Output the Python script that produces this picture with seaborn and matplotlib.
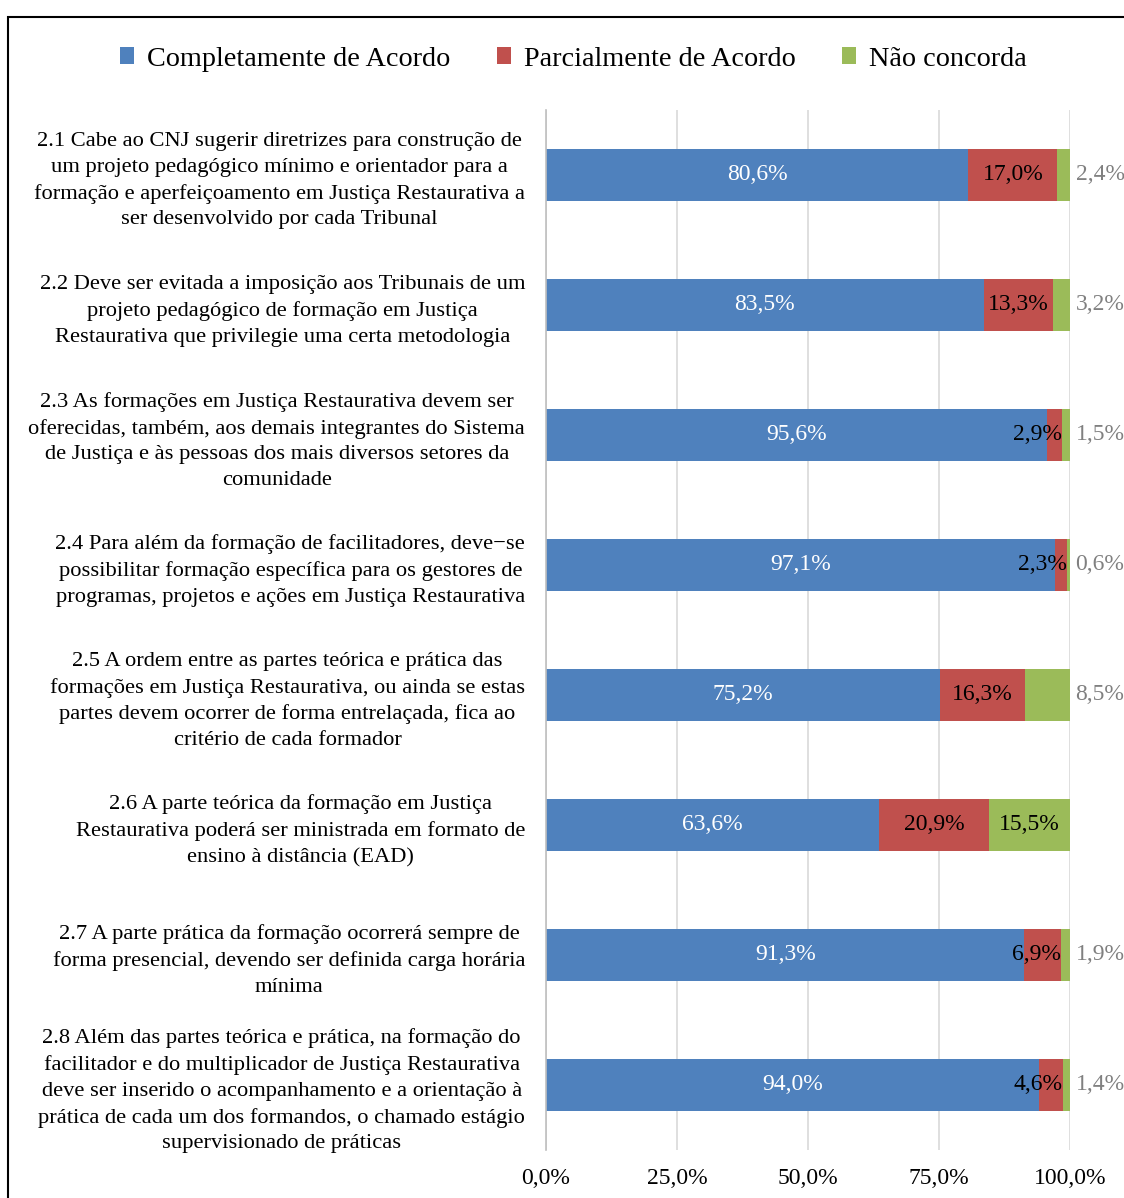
import pandas as pd
import matplotlib.pyplot as plt
import seaborn as sns
from matplotlib.patches import Patch, Rectangle

# dados
perguntas = [
    "2.1 Cabe ao CNJ sugerir diretrizes para construção de\num projeto pedagógico mínimo e orientador para a\nformação e aperfeiçoamento em Justiça Restaurativa a\nser desenvolvido por cada Tribunal",
    "2.2 Deve ser evitada a imposição aos Tribunais de um\nprojeto pedagógico de formação em Justiça\nRestaurativa que privilegie uma certa metodologia",
    "2.3 As formações em Justiça Restaurativa devem ser\noferecidas, também, aos demais integrantes do Sistema\nde Justiça e às pessoas dos mais diversos setores da\ncomunidade",
    "2.4 Para além da formação de facilitadores, deve\u2212se\npossibilitar formação específica para os gestores de\nprogramas, projetos e ações em Justiça Restaurativa",
    "2.5 A ordem entre as partes teórica e prática das\nformações em Justiça Restaurativa, ou ainda se estas\npartes devem ocorrer de forma entrelaçada, fica ao\ncritério de cada formador",
    "2.6 A parte teórica da formação em Justiça\nRestaurativa poderá ser ministrada em formato de\nensino à distância (EAD)",
    "2.7 A parte prática da formação ocorrerá sempre de\nforma presencial, devendo ser definida carga horária\nmínima",
    "2.8 Além das partes teórica e prática, na formação do\nfacilitador e do multiplicador de Justiça Restaurativa\ndeve ser inserido o acompanhamento e a orientação à\nprática de cada um dos formandos, o chamado estágio\nsupervisionado de práticas",
]
completamente = [80.6, 83.5, 95.6, 97.1, 75.2, 63.6, 91.3, 94.0]
parcialmente = [17.0, 13.3, 2.9, 2.3, 16.3, 20.9, 6.9, 4.6]
nao_concorda = [2.4, 3.2, 1.5, 0.6, 8.5, 15.5, 1.9, 1.4]
series = ['Completamente de Acordo', 'Parcialmente de Acordo', 'Não concorda']
cores = ['#4F81BD', '#C0504D', '#9BBB59']
xticks = [0, 25, 50, 75, 100]

df = pd.DataFrame({'pergunta': perguntas, 'comp': completamente,
                   'parc': parcialmente, 'nao': nao_concorda})
df['fim_comp'] = df['comp']
df['fim_parc'] = df['comp'] + df['parc']
df['fim_nao'] = df['fim_parc'] + df['nao']

def fmt(v):
    return f"{v:.1f}%".replace('.', ',')

sns.set_theme(style='white')
plt.rcParams['font.family'] = ['Liberation Serif', 'DejaVu Serif']
plt.rcParams['text.color'] = 'black'
plt.rcParams['xtick.color'] = 'black'
plt.rcParams['ytick.color'] = 'black'

fig = plt.figure(figsize=(11.24, 11.98), dpi=100)
ax = fig.add_axes([546 / 1124, 1 - 1150 / 1198, 524 / 1124, 1040 / 1198])

# barras empilhadas: totais acumulados desenhados por cima uns dos outros
for col, cor in zip(['fim_nao', 'fim_parc', 'fim_comp'], cores[::-1]):
    sns.barplot(data=df, x=col, y='pergunta', color=cor, orient='h', width=0.4,
                saturation=1, linewidth=0, ax=ax)

# rótulos de dados
fs = 17
for i, r in df.iterrows():
    ax.text(r['comp'] / 2, i, fmt(r['comp']), color='white', fontsize=fs,
            ha='center', va='center')
    if r['parc'] >= 8:
        ax.text(r['comp'] + r['parc'] / 2, i, fmt(r['parc']), color='black',
                fontsize=fs, ha='center', va='center')
    else:
        ax.text(r['fim_parc'], i, fmt(r['parc']), color='black', fontsize=fs,
                ha='right', va='center')
    if r['nao'] >= 10:
        ax.text(r['fim_parc'] + r['nao'] / 2, i, fmt(r['nao']), color='black',
                fontsize=fs, ha='center', va='center')
    else:
        ax.annotate(fmt(r['nao']), (r['fim_nao'], i), xytext=(4, 0),
                    textcoords='offset points', color='#808080', fontsize=fs,
                    ha='left', va='center', annotation_clip=False)

ax.set_xlim(0, 100)
ax.set_xticks(xticks)
ax.set_xticklabels([fmt(v) for v in xticks])
ax.set_xlabel('')
ax.set_ylabel('')
ax.set_axisbelow(True)
ax.grid(axis='x', color='#D9D9D9', linewidth=1.2)
ax.grid(axis='y', visible=False)
for s in ['top', 'right', 'bottom']:
    ax.spines[s].set_visible(False)
ax.spines['left'].set_color('#BFBFBF')
ax.spines['left'].set_linewidth(1.2)
ax.tick_params(axis='y', length=0, pad=15, labelsize=16.2, labelcolor='black')
ax.tick_params(axis='x', length=0, pad=13, labelsize=17, labelcolor='black')
for lbl in ax.get_yticklabels():
    lbl.set_multialignment('center')
    lbl.set_linespacing(1.47)

handles = [Patch(facecolor=c, edgecolor='none', label=s) for s, c in zip(series, cores)]
fig.legend(handles=handles, loc='center', bbox_to_anchor=(0.51, 1 - 59 / 1198),
           ncol=3, frameon=False, fontsize=20.3, handlelength=0.5, handleheight=0.5,
           handletextpad=0.45, columnspacing=1.65, labelcolor='black')

# moldura do gráfico
fig.add_artist(Rectangle((8 / 1124, -0.1), 1.2, 1 - 17 / 1198 + 0.1,
                         transform=fig.transFigure, fill=False,
                         edgecolor='black', linewidth=1.5, clip_on=False))

fig.savefig('out.png', dpi=100)
